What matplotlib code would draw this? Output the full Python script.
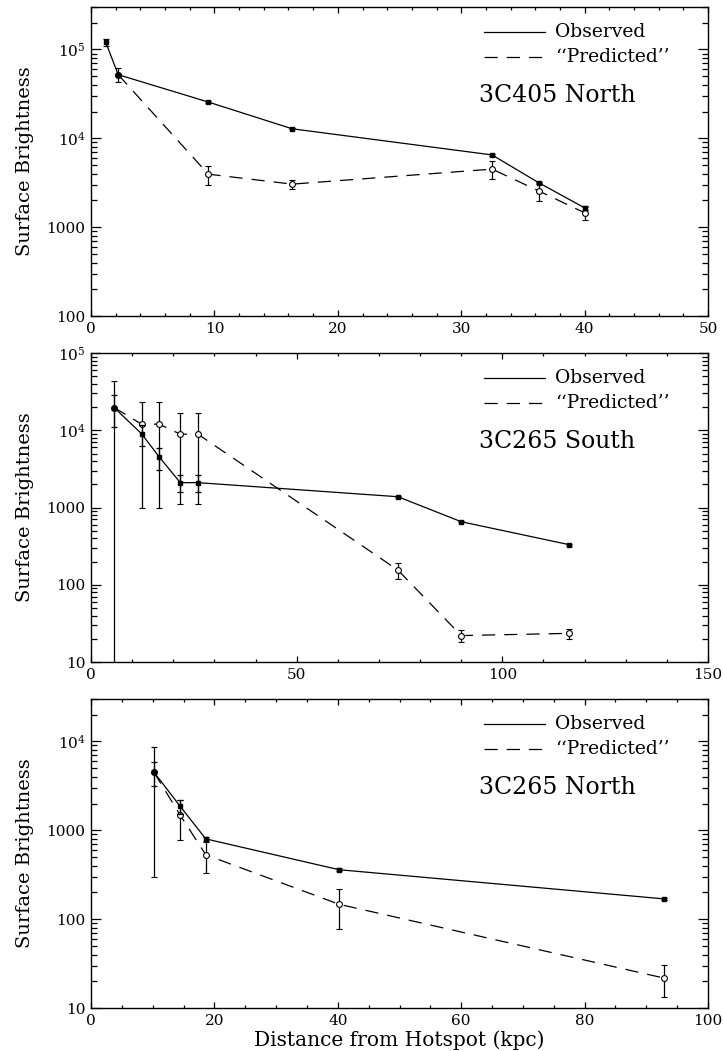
import numpy as np
import matplotlib
matplotlib.use("Agg")
import matplotlib.pyplot as plt
from matplotlib.ticker import FixedLocator, MultipleLocator, LogLocator, NullFormatter

plt.rcParams['font.family'] = 'DejaVu Serif'
plt.rcParams['mathtext.fontset'] = 'dejavuserif'
plt.rcParams['lines.scale_dashes'] = False

# 3C405 North
n405_obs_x = [1.2, 2.2, 9.5, 16.3, 32.5, 36.3, 40.0]
n405_obs_y = [1.2e5, 5.2e4, 2.56e4, 1.28e4, 6.5e3, 3.15e3, 1.65e3]
n405_obs_err = [1.2e4, 1.5e3, 400, 200, 150, 100, 70]
n405_pred_x = [2.2, 9.5, 16.3, 32.5, 36.3, 40.0]
n405_pred_y = [5.2e4, 3.95e3, 3.05e3, 4.5e3, 2.55e3, 1.45e3]
n405_pred_err = [9.5e3, 950, 350, 1050, 580, 240]

# 3C265 South
s265_obs_x = [5.6, 12.3, 16.6, 21.7, 26.0, 74.6, 90.0, 116.3]
s265_obs_y = [1.97e4, 9.0e3, 4.5e3, 2.1e3, 2.1e3, 1.38e3, 655, 330]
s265_obs_err = [8.6e3, 2.7e3, 1.4e3, 530, 530, 30, 10, 8]
s265_pred_x = [5.6, 12.3, 16.6, 21.7, 26.0, 74.6, 90.0, 116.3]
s265_pred_y = [1.97e4, 1.2e4, 1.2e4, 8.9e3, 8.9e3, 155, 22, 23.5]
s265_pred_err = [2.4e4, 1.1e4, 1.1e4, 7.8e3, 7.8e3, 35, 3.8, 3.5]

# 3C265 North
n265_obs_x = [10.2, 14.4, 18.6, 40.2, 92.9]
n265_obs_y = [4.5e3, 1.88e3, 800, 360, 169]
n265_obs_err = [1.37e3, 340, 50, 15, 5]
n265_pred_x = [10.2, 14.4, 18.6, 40.2, 92.9]
n265_pred_y = [4.5e3, 1.5e3, 530, 147, 21.7]
n265_pred_err = [4.2e3, 720, 200, 70, 8.5]

panels = [
    dict(name='3C405 North', ox=n405_obs_x, oy=n405_obs_y, oe=n405_obs_err,
         px=n405_pred_x, py=n405_pred_y, pe=n405_pred_err,
         xlim=(0, 50), xmaj=10, xmin=2, ylim=(100, 3e5),
         yticks=[100, 1000, 1e4, 1e5], ylabels=['100', '1000', '10$^4$', '10$^5$'],
         rect=[0.1259, 0.6993, 0.8534, 0.294]),
    dict(name='3C265 South', ox=s265_obs_x, oy=s265_obs_y, oe=s265_obs_err,
         px=s265_pred_x, py=s265_pred_y, pe=s265_pred_err,
         xlim=(0, 150), xmaj=50, xmin=10, ylim=(10, 1e5),
         yticks=[10, 100, 1000, 1e4, 1e5], ylabels=['10', '100', '1000', '10$^4$', '10$^5$'],
         rect=[0.1259, 0.3701, 0.8534, 0.294]),
    dict(name='3C265 North', ox=n265_obs_x, oy=n265_obs_y, oe=n265_obs_err,
         px=n265_pred_x, py=n265_pred_y, pe=n265_pred_err,
         xlim=(0, 100), xmaj=20, xmin=5, ylim=(10, 3e4),
         yticks=[10, 100, 1000, 1e4], ylabels=['10', '100', '1000', '10$^4$'],
         rect=[0.1259, 0.0409, 0.8534, 0.294]),
]

dash = (0, (9.5, 6.5))

fig = plt.figure(figsize=(7.23, 10.51), dpi=100)

for p in panels:
    ax = fig.add_axes(p['rect'])
    ax.set_yscale('log', nonpositive='clip')

    # observed: solid line, small filled squares
    ax.errorbar(p['ox'], p['oy'], yerr=p['oe'], color='black', lw=0.9,
                marker='s', ms=2.8, mfc='black', capsize=2.2, elinewidth=0.9,
                capthick=0.9, zorder=3)
    # predicted: dashed line, open circles
    ax.errorbar(p['px'], p['py'], yerr=p['pe'], color='black', lw=0.9,
                linestyle=dash, marker='o', ms=4.2, mfc='white', mew=0.8,
                capsize=2.2, elinewidth=0.9, capthick=0.9, zorder=2)

    ax.set_xlim(*p['xlim'])
    ax.set_ylim(*p['ylim'])
    ax.xaxis.set_major_locator(MultipleLocator(p['xmaj']))
    ax.xaxis.set_minor_locator(MultipleLocator(p['xmin']))
    ax.yaxis.set_major_locator(FixedLocator(p['yticks']))
    ax.set_yticklabels(p['ylabels'])
    ax.yaxis.set_minor_locator(LogLocator(base=10, subs=np.arange(2, 10)))
    ax.yaxis.set_minor_formatter(NullFormatter())

    ax.tick_params(which='both', direction='in', top=True, right=True,
                   labelsize=11, width=0.9, pad=4)
    ax.tick_params(axis='x', which='major', length=4.5)
    ax.tick_params(axis='x', which='minor', length=2.5)
    ax.tick_params(axis='y', which='major', length=7)
    ax.tick_params(axis='y', which='minor', length=4)
    for s in ax.spines.values():
        s.set_linewidth(1.0)

    ax.set_ylabel('Surface Brightness', fontsize=14, labelpad=9)

    # legend, drawn in axes fraction
    ax.plot([0.637, 0.736], [0.92, 0.92], transform=ax.transAxes, color='black', lw=0.9)
    ax.plot([0.637, 0.736], [0.837, 0.837], transform=ax.transAxes, color='black',
            lw=0.9, linestyle=dash)
    ax.text(0.752, 0.92, 'Observed', transform=ax.transAxes, fontsize=13.5, va='center')
    ax.text(0.752, 0.837, '\u2018\u2018Predicted\u2019\u2019', transform=ax.transAxes,
            fontsize=13.5, va='center')
    ax.text(0.629, 0.714, p['name'], transform=ax.transAxes, fontsize=17, va='center')

ax.set_xlabel('Distance from Hotspot (kpc)', fontsize=14.5, labelpad=2)

fig.savefig('out.png', dpi=100)
